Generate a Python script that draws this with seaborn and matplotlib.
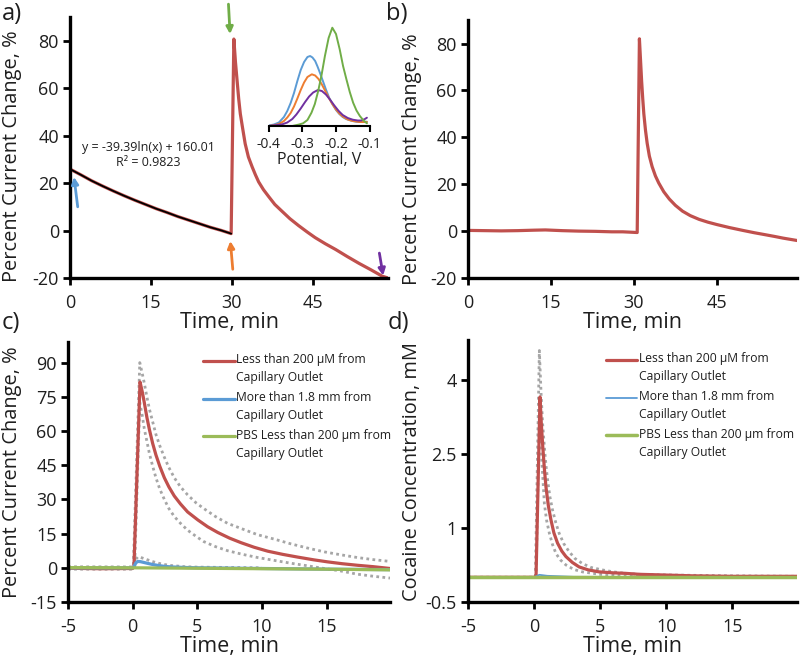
import matplotlib
matplotlib.use('Agg')
import matplotlib.pyplot as plt
from matplotlib.ticker import FuncFormatter
from matplotlib.legend_handler import HandlerLine2D
import pandas as pd
import seaborn as sns

# colours (Excel-like palette)
RED = '#C0504D'
BLUE = '#5B9BD5'
ORANGE = '#ED7D31'
GREEN = '#70AD47'
LGREEN = '#9BBB59'
PURPLE = '#7030A0'
GREY = '#A6A6A6'
TXT = '#1e1e1e'

# ---- panel a: current change during exposure (min, %) ----
a_time = [0, 2, 4, 6, 8, 10, 12, 14, 16, 18, 20, 22, 24, 26, 28, 29.9,
          30.4, 30.7, 31.0, 31.3, 31.6, 32.0, 32.5, 33.1, 33.8, 34.4, 35.0, 35.9,
          36.9, 38.0, 39.3, 40.8, 42.4, 44.0, 45.5, 47.4, 49.3, 51.4, 53.6, 55.8,
          57.9, 59.0]
a_value = [25.9, 23.5, 21.0, 18.8, 16.7, 14.7, 12.8, 11.0, 9.2, 7.6, 5.9, 4.4, 2.9,
           1.4, 0.1, -1.3,
           80.7, 71.0, 63.2, 55.5, 49.2, 43.5, 36.6, 31.0, 26.8, 23.5, 20.5, 17.2,
           14.2, 11.0, 8.2, 5.0, 2.1, -0.6, -3.0, -5.6, -8.0, -10.9, -13.8, -16.5,
           -19.2, -20.0]
a_fit_time = [0, 2, 4, 6, 8, 10, 12, 14, 16, 18, 20, 22, 24, 26, 28, 29.9]
a_fit_value = [25.9, 23.5, 21.0, 18.8, 16.7, 14.7, 12.8, 11.0, 9.2, 7.6, 5.9, 4.4,
               2.9, 1.4, 0.1, -1.3]

# inset: voltammograms (V, arbitrary height)
inset_blue_v = [-0.4, -0.385, -0.37, -0.355, -0.345, -0.335, -0.325, -0.315, -0.305,
                -0.295, -0.285, -0.277, -0.27, -0.262, -0.255, -0.247, -0.239, -0.23,
                -0.22, -0.21, -0.2, -0.19, -0.18, -0.17, -0.155, -0.14, -0.125, -0.108]
inset_blue_i = [0.5, 1.5, 3.5, 9, 15, 23, 33, 45, 56, 64, 69, 70, 68.5, 65, 59.5,
                52.5, 45, 36.5, 28, 21.5, 16, 12, 9, 7, 5.3, 4.3, 4, 4.3]
inset_orange_v = [-0.4, -0.385, -0.37, -0.355, -0.345, -0.335, -0.325, -0.315, -0.305,
                  -0.295, -0.285, -0.272, -0.262, -0.252, -0.242, -0.232, -0.222,
                  -0.212, -0.2, -0.19, -0.18, -0.165, -0.15, -0.13, -0.108]
inset_orange_i = [0, 0.8, 2, 5, 8.5, 13, 19.5, 27.5, 36, 43.5, 49, 51.7, 50.5, 47,
                  41.5, 35, 28.5, 22.5, 16.5, 12.5, 9.5, 6.5, 5, 4, 4]
inset_purple_v = [-0.4, -0.38, -0.36, -0.345, -0.33, -0.318, -0.305, -0.292, -0.28,
                  -0.268, -0.254, -0.242, -0.23, -0.218, -0.205, -0.192, -0.18, -0.165,
                  -0.15, -0.135, -0.125, -0.115, -0.108]
inset_purple_i = [0, 0.8, 1.7, 3.5, 7, 11.5, 17.5, 24, 29.5, 33.5, 36, 35, 31.5,
                  26.5, 20.5, 15, 11, 8, 6.3, 5.5, 5.5, 6.8, 8.3]
inset_green_v = [-0.33, -0.31, -0.298, -0.285, -0.273, -0.263, -0.253, -0.243, -0.233,
                 -0.222, -0.211, -0.2, -0.189, -0.179, -0.169, -0.159, -0.149, -0.139,
                 -0.129, -0.118, -0.108]
inset_green_i = [0, 1.5, 2.7, 6, 13.3, 22, 35, 51, 70, 88, 98.3, 92, 76.7, 60, 46.7,
                 34, 23.3, 15.5, 10, 5.5, 2.7]

# ---- panel b ----
b_time = [0, 3, 6, 9, 12, 14, 17, 20, 23, 26, 28, 30.6,
          31.0, 31.2, 31.4, 31.6, 31.8, 32.1, 32.4, 32.8, 33.3, 33.9, 34.5, 35.4,
          36.4, 37.5, 38.8, 40.2, 41.8, 43.4, 45.0, 47.3, 49.7, 51.8, 53.9, 55.5,
          57.0, 59.5]
b_value = [0.3, 0.2, 0.1, 0.2, 0.4, 0.5, 0.2, 0.0, -0.1, -0.3, -0.3, -0.6,
           82.0, 73.0, 64.0, 56.5, 50.0, 43.0, 37.5, 32.0, 27.5, 23.5, 20.5, 16.8,
           13.7, 11.0, 8.5, 6.6, 5.0, 3.8, 2.8, 1.5, 0.3, -0.7, -1.6, -2.3, -3.0,
           -4.0]

# ---- panel c: percent current change vs time ----
c_red_time = [-5, -2.5, 0, 0.1, 0.57, 0.75, 0.9, 1.1, 1.3, 1.55, 1.8, 2.1, 2.45, 2.8,
              3.22, 3.7, 4.25, 5.04, 5.8, 6.58, 7.5, 8.39, 9.4, 10.44, 11.6, 12.76,
              14.0, 15.08, 16.2, 17.4, 18.6, 19.9]
c_red = [-0.2, -0.4, -0.3, 0.5, 81.5, 77, 72.5, 66, 60.5, 54.5, 49.5, 44.5, 39.5,
         35.5, 31.5, 28, 24.5, 21, 18, 15.5, 13, 11, 9, 7.3, 5.9, 4.7, 3.5, 2.6, 1.8,
         1.1, 0.5, -0.3]
c_red_up_time = [-5, 0, 0.05, 0.55, 0.75, 0.9, 1.1, 1.3, 1.55, 1.8, 2.1, 2.45, 2.8,
                 3.22, 3.7, 4.25, 4.9, 5.5, 6.4, 7.34, 8.5, 9.67, 11.0, 12.24, 13.5,
                 14.81, 16.0, 17.38, 18.6, 19.9]
c_red_up = [0.4, 0.3, 0.5, 90, 85, 81, 75, 69.5, 64, 58.5, 53.5, 48.5, 44, 39.5,
            35.5, 32, 28.5, 26, 22.5, 19.5, 17, 14.5, 12.5, 10.5, 8.7, 7, 5.8, 4.5,
            3.6, 2.8]
c_red_lo_time = [-5, 0, 0.15, 0.55, 0.75, 0.9, 1.1, 1.3, 1.55, 1.8, 2.1, 2.45, 2.8,
                 3.22, 3.7, 4.25, 4.9, 5.5, 6.4, 7.34, 8.5, 9.67, 11.0, 12.24, 13.5,
                 14.81, 16.0, 17.38, 18.6, 19.9]
c_red_lo = [-0.6, -0.6, -0.3, 72.5, 66.5, 61, 55.5, 50, 44.5, 39.5, 34.5, 30, 26,
            22.5, 19.5, 16.5, 13.8, 11.5, 9.3, 7.5, 5.9, 4.5, 3.2, 2.0, 0.9, -0.3,
            -1.3, -2.8, -3.7, -4.5]
c_blue_time = [-5, 0, 0.1, 0.25, 0.4, 0.6, 0.9, 1.2, 1.5, 2.0, 2.5, 3.0, 4, 5, 10,
               15, 19.9]
c_blue = [0, 0, 0.5, 2.2, 2.8, 2.7, 2.3, 1.9, 1.5, 1.0, 0.6, 0.4, 0.15, 0, -0.3,
          -0.6, -0.8]
c_blue_up_time = [-5, 0, 0.1, 0.25, 0.4, 0.6, 0.9, 1.2, 1.5, 2.0, 2.5, 3.0, 4, 5, 10]
c_blue_up = [0.3, 0.3, 1.0, 3.8, 4.8, 4.6, 4.0, 3.4, 2.8, 2.0, 1.4, 1.0, 0.5, 0.3, 0.0]
c_green_time = [-5, 0, 5, 10, 15, 19.9]
c_green = [0.1, 0.0, -0.2, -0.4, -0.6, -0.9]

# ---- panel d: cocaine concentration (mM) ----
d_red_time = [-5, 0, 0.15, 0.45, 0.55, 0.66, 0.78, 0.9, 1.08, 1.28, 1.5, 1.78, 2.1,
              2.41, 2.9, 3.41, 4.1, 4.92, 6, 6.92, 8, 9.4, 12, 15, 19.9]
d_red = [0, 0, 0.02, 3.65, 3.1, 2.64, 2.2, 1.83, 1.45, 1.16, 0.9, 0.69, 0.53, 0.42,
         0.3, 0.21, 0.15, 0.11, 0.09, 0.08, 0.06, 0.05, 0.03, 0.02, 0.02]
d_red_up_time = [-5, 0, 0.1, 0.4, 0.53, 0.65, 0.78, 0.9, 1.03, 1.2, 1.4, 1.65, 1.9,
                 2.25, 2.65, 3.1, 3.65, 4.3, 5.15, 6, 6.9, 8, 9.4, 12, 15, 19.9]
d_red_up = [0, 0, 0.02, 4.59, 3.72, 3.1, 2.64, 2.27, 1.96, 1.63, 1.36, 1.1, 0.89,
            0.68, 0.52, 0.38, 0.28, 0.2, 0.15, 0.11, 0.08, 0.06, 0.05, 0.04, 0.03,
            0.02]
d_red_lo_time = [-5, 0, 0.15, 0.4, 0.5, 0.6, 0.7, 0.78, 0.95, 1.16, 1.4, 1.66, 2.0,
                 2.41, 3.0, 3.65, 5, 7, 10, 15, 19.9]
d_red_lo = [0, 0, 0.02, 3.3, 2.75, 2.3, 1.85, 1.49, 1.15, 0.89, 0.66, 0.48, 0.35,
            0.25, 0.16, 0.11, 0.06, 0.03, 0.02, 0.01, 0.01]
d_blue_time = [-5, 0, 0.4, 1, 3, 19.9]
d_blue = [0, 0, 0.05, 0.03, 0.01, 0]
d_green_time = [-5, 0, 5, 10, 15, 19.9]
d_green = [0, 0, 0, 0, 0, 0]

legend_labels = ['Less than 200 \u00b5M from\nCapillary Outlet',
                 'More than 1.8 mm from\nCapillary Outlet',
                 'PBS Less than 200 \u00b5m from\nCapillary Outlet']

sns.set_theme(style='ticks')
plt.rcParams['font.family'] = ['Open Sans', 'DejaVu Sans']
plt.rcParams['axes.unicode_minus'] = False
plt.rcParams['text.color'] = TXT
plt.rcParams['axes.labelcolor'] = TXT
plt.rcParams['xtick.color'] = TXT
plt.rcParams['ytick.color'] = TXT


class FirstLineHandler(HandlerLine2D):
    # put the legend key next to the first line of a two-line label
    def create_artists(self, legend, orig_handle, xdescent, ydescent, width, height,
                       fontsize, trans):
        arts = super().create_artists(legend, orig_handle, xdescent, ydescent, width,
                                      height, fontsize, trans)
        for a in arts:
            a.set_ydata([y + 0.72 * fontsize for y in a.get_ydata()])
        return arts


def line(ax, x, y, **kw):
    df = pd.DataFrame({'x': x, 'y': y})
    sns.lineplot(data=df, x='x', y='y', ax=ax, sort=False, estimator=None, **kw)


def dotted(ax, x, y):
    line(ax, x, y, color=GREY, lw=2.0, ls=(0, (1, 1.2)))


def style(ax, xlim, xticks, ylim, yticks, ylabel, label_y=0.5):
    ax.set_xlim(*xlim)
    ax.set_ylim(*ylim)
    ax.set_xticks(xticks)
    ax.set_yticks(yticks)
    ax.set_xlabel('Time, min', fontsize=15.5, labelpad=0)
    ax.set_ylabel(ylabel, fontsize=14.4)
    # right edge of the rotated label about 22 px from the figure's side
    pos = ax.get_position()
    left_px = pos.x0 * 800
    edge = 22 if left_px < 200 else 422
    ax.yaxis.set_label_coords((edge - left_px) / (pos.width * 800), label_y)
    ax.yaxis.set_major_formatter(FuncFormatter(lambda v, p: '%g' % v))
    for s in ('top', 'right'):
        ax.spines[s].set_visible(False)
    for s in ('left', 'bottom'):
        ax.spines[s].set_linewidth(2.4)
        ax.spines[s].set_color('black')
    ax.tick_params(axis='both', labelsize=13, width=2, length=5, pad=3, color='black')
    ax.tick_params(axis='x', pad=6.5)


def legend(ax, y_anchor):
    leg = ax.legend(loc='upper left', bbox_to_anchor=(0.405, y_anchor), frameon=False,
                    fontsize=8.7, handlelength=2.6, handletextpad=0.15,
                    labelspacing=0.55, borderaxespad=0,
                    handler_map={plt.Line2D: FirstLineHandler()})
    for t in leg.get_texts():
        t.set_linespacing(1.5)
    return leg


fig = plt.figure(figsize=(8, 6.58), dpi=100)
ax_a = fig.add_axes([0.0875, 0.5775, 0.3975, 0.3967])
ax_b = fig.add_axes([0.585, 0.5775, 0.41125, 0.392])
ax_c = fig.add_axes([0.085, 0.0851, 0.4025, 0.395])
ax_d = fig.add_axes([0.585, 0.0851, 0.41125, 0.398])

# panel a
line(ax_a, a_time, a_value, color=RED, lw=2.3)
line(ax_a, a_fit_time, a_fit_value, color='black', lw=1.3)
style(ax_a, (0, 59), [0, 15, 30, 45], (-20, 90), [-20, 0, 20, 40, 60, 80],
      'Percent Current Change, %', label_y=0.465)
ax_a.text(14.5, 35, 'y = -39.39ln(x) + 160.01', ha='center', va='center', fontsize=9)
ax_a.text(14.5, 28.5, 'R\u00b2 = 0.9823', ha='center', va='center', fontsize=9)
arrows = [((0.74, 22.6), (1.43, 10.0), BLUE),
          ((29.75, -4.4), (30.2, -16.3), ORANGE),
          ((29.7, 82.8), (29.4, 95.4), GREEN),
          ((58.1, -19.0), (57.4, -9.5), PURPLE)]
for head, tail, col in arrows:
    ax_a.annotate('', xy=head, xytext=tail, annotation_clip=False,
                  arrowprops=dict(arrowstyle='-|>', color=col, lw=2,
                                  mutation_scale=10, shrinkA=0, shrinkB=0))

ax_in = fig.add_axes([0.336, 0.8085, 0.126, 0.1535])
ax_in.patch.set_alpha(0)
line(ax_in, inset_blue_v, inset_blue_i, color=BLUE, lw=1.4)
line(ax_in, inset_orange_v, inset_orange_i, color=ORANGE, lw=1.4)
line(ax_in, inset_purple_v, inset_purple_i, color=PURPLE, lw=1.4)
line(ax_in, inset_green_v, inset_green_i, color=GREEN, lw=1.4)
ax_in.set_xlim(-0.4, -0.1)
ax_in.set_ylim(0, 101)
ax_in.set_xticks([-0.4, -0.3, -0.2, -0.1])
ax_in.xaxis.set_major_formatter(FuncFormatter(lambda v, p: '%g' % round(v, 1)))
ax_in.set_yticks([])
ax_in.set_ylabel('')
ax_in.set_xlabel('Potential, V', fontsize=11.5, labelpad=0)
for s in ('top', 'right', 'left'):
    ax_in.spines[s].set_visible(False)
ax_in.spines['bottom'].set_linewidth(1.5)
ax_in.spines['bottom'].set_color('black')
ax_in.tick_params(axis='x', labelsize=10, width=1.5, length=4, pad=4, color='black')

# panel b
line(ax_b, b_time, b_value, color=RED, lw=2.3)
style(ax_b, (0, 59.5), [0, 15, 30, 45], (-20, 90), [-20, 0, 20, 40, 60, 80],
      'Percent Current Change, %', label_y=0.46)

# panel c
dotted(ax_c, c_red_up_time, c_red_up)
dotted(ax_c, c_red_lo_time, c_red_lo)
dotted(ax_c, c_blue_up_time, c_blue_up)
line(ax_c, c_red_time, c_red, color=RED, lw=2.3, label=legend_labels[0])
line(ax_c, c_blue_time, c_blue, color=BLUE, lw=2.3, label=legend_labels[1])
line(ax_c, c_green_time, c_green, color=LGREEN, lw=2.3, label=legend_labels[2])
style(ax_c, (-5, 19.9), [-5, 0, 5, 10, 15], (-15, 99), [-15, 0, 15, 30, 45, 60, 75, 90],
      'Percent Current Change, %')
legend(ax_c, 0.975)

# panel d
dotted(ax_d, d_red_up_time, d_red_up)
dotted(ax_d, d_red_lo_time, d_red_lo)
line(ax_d, d_red_time, d_red, color=RED, lw=2.3, label=legend_labels[0])
line(ax_d, d_blue_time, d_blue, color=BLUE, lw=1.3, label=legend_labels[1])
line(ax_d, d_green_time, d_green, color=LGREEN, lw=2.5, label=legend_labels[2])
style(ax_d, (-5, 19.9), [-5, 0, 5, 10, 15], (-0.5, 4.8), [-0.5, 1, 2.5, 4],
      'Cocaine Concentration, mM')
legend(ax_d, 0.972)

# panel letters
fig.text(0.002, 0.997, 'a)', fontsize=17, va='top')
fig.text(0.483, 0.997, 'b)', fontsize=17, va='top')
fig.text(0.002, 0.527, 'c)', fontsize=17, va='top')
fig.text(0.485, 0.527, 'd)', fontsize=17, va='top')

fig.savefig('out.png', dpi=100)
